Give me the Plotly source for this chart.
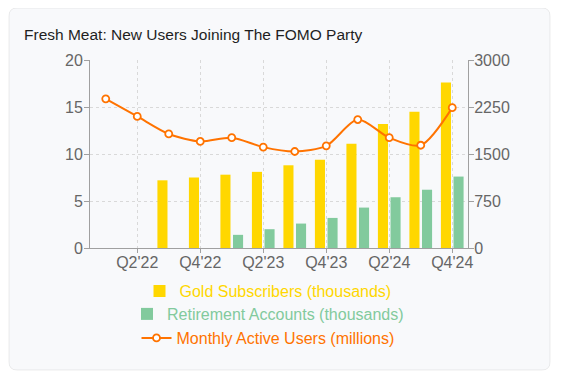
import plotly.graph_objects as go

quarters = ["Q1'22", "Q2'22", "Q3'22", "Q4'22", "Q1'23", "Q2'23",
            "Q3'23", "Q4'23", "Q1'24", "Q2'24", "Q3'24", "Q4'24"]
tick_labels = ["Q2'22", "Q4'22", "Q2'23", "Q4'23", "Q2'24", "Q4'24"]
gold_subscribers = [None, None, 7.2, 7.5, 7.8, 8.1, 8.8, 9.4, 11.1, 13.2, 14.5, 17.6]
retirement_accounts = [None, None, None, None, 1.4, 2.0, 2.6, 3.2, 4.3, 5.4, 6.2, 7.6]
monthly_active_users = [2380, 2100, 1820, 1700, 1760, 1610, 1540, 1630, 2050, 1760, 1640, 2240]
left_ticks = [0, 5, 10, 15, 20]
right_ticks = [0, 750, 1500, 2250, 3000]

GOLD = "#FFD700"
GREEN = "#82CA9D"
ORANGE = "#FF7300"
FONT = "Liberation Sans, Arial, sans-serif"

# the page body has an 8px margin: work in reference-pixel coords, shifted by OFF
OFF = 8
W, H = 561 - OFF, 382 - OFF
L, R, T, B = 90 - OFF, 468 - OFF, 60 - OFF, 248 - OFF


def px(x):
    return (x - OFF - L) / (R - L)


def py(y):
    return (B - (y - OFF)) / (B - T)


fig = go.Figure()
fig.add_trace(go.Bar(
    x=quarters, y=gold_subscribers, name=f'<span style="color:{GOLD}">Gold Subscribers (thousands)</span>',
    marker=dict(color=GOLD, line=dict(width=0)), yaxis="y", legend="legend", offsetgroup="a"))
fig.add_trace(go.Bar(
    x=quarters, y=retirement_accounts, name=f'<span style="color:{GREEN}">Retirement Accounts (thousands)</span>',
    marker=dict(color=GREEN, line=dict(width=0)), yaxis="y", legend="legend2", offsetgroup="b"))
fig.add_trace(go.Scatter(
    x=quarters, y=monthly_active_users, name=f'<span style="color:{ORANGE}">Monthly Active Users (millions)</span>',
    mode="lines+markers", yaxis="y2", legend="legend3",
    line=dict(color=ORANGE, width=2, shape="spline", smoothing=0.8),
    marker=dict(symbol="circle", size=7, color="white", line=dict(color=ORANGE, width=1.8))))

# card background
r = 8
x0, x1, y0, y1 = 9, 550, 8, 370
rx = r / (R - L)
ry = r / (B - T)
X0, X1, Y0, Y1 = px(x0), px(x1), py(y1), py(y0)
path = (f"M {X0+rx},{Y0} L {X1-rx},{Y0} Q {X1},{Y0} {X1},{Y0+ry} "
        f"L {X1},{Y1-ry} Q {X1},{Y1} {X1-rx},{Y1} L {X0+rx},{Y1} "
        f"Q {X0},{Y1} {X0},{Y1-ry} L {X0},{Y0+ry} Q {X0},{Y0} {X0+rx},{Y0} Z")
fig.add_shape(type="path", path=path, xref="paper", yref="paper",
              fillcolor="#F8F9FB", line=dict(color="rgba(0,0,0,0.07)", width=1), layer="below")

fig.add_annotation(text="Fresh Meat: New Users Joining The FOMO Party", xref="paper", yref="paper",
                   x=px(22), y=py(35), xanchor="left", yanchor="middle", showarrow=False,
                   font=dict(family=FONT, size=15.5, color="#1f1f1f"))

axis_gray = "#A0A0A0"
grid_gray = "#D9D9D9"
tick_font = dict(family=FONT, size=16, color="#666666")

legend_common = dict(orientation="h", xanchor="center", yanchor="middle", x=px(268),
                     bgcolor="rgba(0,0,0,0)", font=dict(family=FONT, size=16), itemwidth=30)

fig.update_layout(
    width=W, height=H,
    margin=dict(l=L, r=W - R, t=T, b=H - B, pad=0),
    paper_bgcolor="white", plot_bgcolor="rgba(0,0,0,0)",
    barmode="group", bargap=0.2, bargroupgap=0.2,
    font=dict(family=FONT),
    xaxis=dict(type="category", categoryorder="array", categoryarray=quarters,
               range=[-0.5, len(quarters) - 0.5],
               tickvals=tick_labels, ticktext=tick_labels,
               showgrid=True, gridcolor=grid_gray, griddash="3px,3px", gridwidth=1,
               showline=True, linecolor=axis_gray, linewidth=1,
               ticks="outside", ticklen=4, tickcolor=axis_gray, tickfont=tick_font,
               ticklabelstandoff=-4, zeroline=False, fixedrange=True),
    yaxis=dict(range=[0, 20], tickvals=left_ticks,
               showgrid=True, gridcolor=grid_gray, griddash="3px,3px", gridwidth=1,
               showline=True, linecolor=axis_gray, linewidth=1,
               ticks="outside", ticklen=5, tickcolor=axis_gray, tickfont=tick_font,
               ticklabelstandoff=-2, zeroline=False),
    yaxis2=dict(range=[0, 3000], tickvals=right_ticks, overlaying="y", side="right",
                showgrid=False, showline=True, linecolor=axis_gray, linewidth=1,
                ticks="outside", ticklen=5, tickcolor=axis_gray, tickfont=tick_font,
                ticklabelstandoff=-3, zeroline=False),
    legend=dict(**legend_common, y=py(291)),
    legend2=dict(**legend_common, y=py(314)),
    legend3=dict(**legend_common, y=py(338)),
    showlegend=True,
)

fig.write_html("out.html")
